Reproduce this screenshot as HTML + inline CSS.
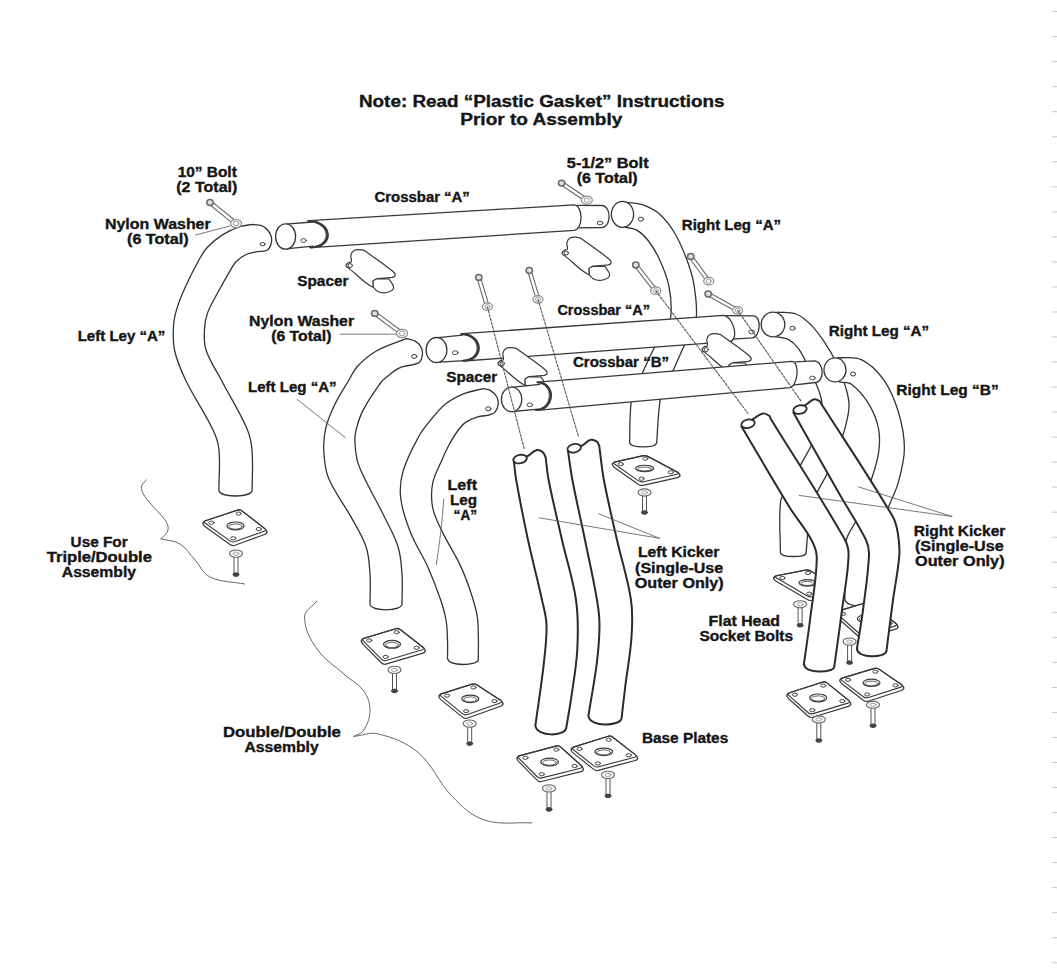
<!DOCTYPE html>
<html><head><meta charset="utf-8"><style>
html,body{margin:0;padding:0;background:#fff;}
svg{display:block;}
</style></head><body>
<svg width="1057" height="975" viewBox="0 0 1057 975">
<rect width="1057" height="975" fill="#fff"/>
<g stroke="#c8c8c8" stroke-width="1"><line x1="1052" y1="11.60" x2="1057" y2="11.60"/><line x1="1052" y1="36.63" x2="1057" y2="36.63"/><line x1="1052" y1="61.66" x2="1057" y2="61.66"/><line x1="1052" y1="86.69" x2="1057" y2="86.69"/><line x1="1052" y1="111.72" x2="1057" y2="111.72"/><line x1="1052" y1="136.75" x2="1057" y2="136.75"/><line x1="1052" y1="161.78" x2="1057" y2="161.78"/><line x1="1052" y1="186.81" x2="1057" y2="186.81"/><line x1="1052" y1="211.84" x2="1057" y2="211.84"/><line x1="1052" y1="236.87" x2="1057" y2="236.87"/><line x1="1052" y1="261.90" x2="1057" y2="261.90"/><line x1="1052" y1="286.93" x2="1057" y2="286.93"/><line x1="1052" y1="311.96" x2="1057" y2="311.96"/><line x1="1052" y1="336.99" x2="1057" y2="336.99"/><line x1="1052" y1="362.02" x2="1057" y2="362.02"/><line x1="1052" y1="387.05" x2="1057" y2="387.05"/><line x1="1052" y1="412.08" x2="1057" y2="412.08"/><line x1="1052" y1="437.11" x2="1057" y2="437.11"/><line x1="1052" y1="462.14" x2="1057" y2="462.14"/><line x1="1052" y1="487.17" x2="1057" y2="487.17"/><line x1="1052" y1="512.20" x2="1057" y2="512.20"/><line x1="1052" y1="537.23" x2="1057" y2="537.23"/><line x1="1052" y1="562.26" x2="1057" y2="562.26"/><line x1="1052" y1="587.29" x2="1057" y2="587.29"/><line x1="1052" y1="612.32" x2="1057" y2="612.32"/><line x1="1052" y1="637.35" x2="1057" y2="637.35"/><line x1="1052" y1="662.38" x2="1057" y2="662.38"/><line x1="1052" y1="687.41" x2="1057" y2="687.41"/><line x1="1052" y1="712.44" x2="1057" y2="712.44"/><line x1="1052" y1="737.47" x2="1057" y2="737.47"/><line x1="1052" y1="762.50" x2="1057" y2="762.50"/><line x1="1052" y1="787.53" x2="1057" y2="787.53"/><line x1="1052" y1="812.56" x2="1057" y2="812.56"/><line x1="1052" y1="837.59" x2="1057" y2="837.59"/><line x1="1052" y1="862.62" x2="1057" y2="862.62"/><line x1="1052" y1="887.65" x2="1057" y2="887.65"/><line x1="1052" y1="912.68" x2="1057" y2="912.68"/><line x1="1052" y1="937.71" x2="1057" y2="937.71"/><line x1="1052" y1="962.74" x2="1057" y2="962.74"/><line x1="1052" y1="987.77" x2="1057" y2="987.77"/></g>
<g fill="none" stroke="#383838" stroke-width="1.5" stroke-linecap="round" stroke-linejoin="round">
<path d="M253.3,224.4 C248.7,225.2 244.9,225.0 240.4,226.5 C233.9,228.6 229.0,230.8 223.2,234.4 C217.0,238.3 212.4,242.0 207.4,247.3 C203.6,251.4 201.5,255.3 198.8,260.2 C193.7,269.3 190.1,276.6 185.8,286.1 C182.3,293.7 179.7,299.6 177.2,307.6 C175.3,313.6 174.0,318.5 173.6,324.8 C173.0,333.9 172.6,341.1 174.5,350.0 C176.9,361.3 180.6,369.6 185.6,380.0 C194.4,398.2 203.9,411.1 212.7,429.3 C215.9,436.0 218.2,441.6 218.9,449.0 C220.4,464.0 218.9,475.8 218.9,490.8 C221.3,497.7 249.5,497.7 252.1,490.8 C252.1,476.6 253.2,465.5 252.1,451.4 C251.5,443.3 250.4,436.8 247.2,429.3 C239.3,410.9 230.5,397.8 221.3,380.0 C215.7,369.2 209.8,361.5 206.0,350.0 C203.6,342.8 204.2,336.6 204.5,329.1 C204.7,323.4 205.5,318.8 207.4,313.4 C210.1,305.8 213.6,300.4 217.4,293.3 C221.9,284.9 225.5,278.5 230.3,270.3 C232.2,267.1 233.5,264.3 236.1,261.7 C239.2,258.6 242.1,256.4 246.1,254.5 C250.0,252.7 253.5,252.6 257.6,251.6 C261.0,251.1 264.1,252.0 267.0,250.2 C269.6,248.6 270.6,245.9 271.3,243.0 C272.0,240.0 271.8,237.2 270.5,234.4 C268.8,231.0 266.7,228.4 263.4,226.5 C260.2,224.6 256.9,225.2 253.3,224.4Z" fill="#fff" stroke="#333" stroke-width="1.3"/>
<ellipse cx="262.6" cy="244.2" rx="2.5" ry="1.7" stroke-width="1"/>
<path d="M210.4,205.2 L232.5,223.1 L234.8,220.3 L212.7,202.4 Z" fill="#fff" stroke-width="1.1" stroke="#6a6a6a"/><line x1="232.40346747124238" y1="223.23124700735016" x2="234.89883293419842" y2="220.1563890909114" stroke-width="1.8" stroke="#777"/><ellipse cx="236" cy="223.6" rx="5.5" ry="4.125" stroke-width="1.2" fill="#fff" stroke="#8a8a8a"/><ellipse cx="236" cy="223.6" rx="2.75" ry="2.31" stroke-width="1.0" stroke="#999"/><ellipse cx="210" cy="202.5" rx="3.2" ry="2.9" stroke-width="1.5" fill="#e0e0e0" stroke="#6a6a6a"/>
<line x1="195.5" y1="235" x2="230" y2="226" stroke-width="0.8" stroke="#555"/>
<path d="M237.4,510.1 Q239.8,509.3 241.8,510.8 L264.9,528.7 Q266.9,530.2 266.9,532.7 L266.9,531.2 Q266.9,533.7 264.5,534.5 L234.8,545.3 Q232.4,546.1 230.4,544.7 L204.9,526.5 Q202.9,525.1 202.9,522.6 L202.9,524.1 Q202.9,521.6 205.3,520.8Z" fill="#fff" stroke="#3a3a3a" stroke-width="1.2"/><path d="M205.3,523.3 Q202.9,521.6 205.7,520.7 L237.0,510.2 Q239.8,509.3 242.2,511.1 L264.5,528.4 Q266.9,530.2 264.1,531.2 L235.2,541.6 Q232.4,542.6 230.0,540.9Z" fill="none" stroke="#3a3a3a" stroke-width="1.1"/><ellipse cx="235.49999999999997" cy="525.9250000000001" rx="8.53333333333333" ry="3.9176470588235306" stroke-width="1.2" stroke="#3a3a3a"/><ellipse cx="235.49999999999997" cy="526.5250000000001" rx="6.53333333333333" ry="2.6176470588235308" stroke-width="0.9" stroke="#555"/><ellipse cx="211.376" cy="522.7245" rx="2.6" ry="1.6" stroke-width="1.0" stroke="#444"/><ellipse cx="238.682" cy="513.6225000000001" rx="2.6" ry="1.6" stroke-width="1.0" stroke="#444"/><ellipse cx="258.736" cy="529.0885000000001" rx="2.6" ry="1.6" stroke-width="1.0" stroke="#444"/><ellipse cx="233.206" cy="538.2645" rx="2.6" ry="1.6" stroke-width="1.0" stroke="#444"/>
<path d="M234.0,555.6 L234.0,573.6 L238.0,573.6 L238.0,555.6" stroke-width="1" stroke="#555"/><ellipse cx="236" cy="553.6" rx="6.5" ry="3.6" stroke-width="1.1" fill="#fff" stroke="#666"/><ellipse cx="236" cy="553.6" rx="3.0" ry="1.6" stroke-width="0.8" stroke="#888"/><ellipse cx="236" cy="574.6" rx="3.0" ry="1.8" stroke-width="1" fill="#444" stroke="#444"/>
<path d="M146.2,479.8 C144.4,482.9 140.7,484.9 141.3,488.4 C142.3,494.4 146.3,498.1 150.0,503.0 C154.9,509.5 160.5,513.2 165.0,520.0 C167.1,523.1 168.8,526.3 168.0,530.0 C167.2,534.0 163.5,535.7 161.0,538.9" stroke-width="0.9" stroke="#555"/>
<path d="M161.0,538.9 C167.8,540.7 174.0,540.3 180.0,544.0 C186.7,548.2 189.7,554.2 195.0,560.0 C200.5,566.0 202.7,573.5 210.0,577.0 C221.5,582.5 232.2,581.5 244.7,584.0" stroke-width="0.9" stroke="#555"/>
<path d="M285.8,224.2 L331.3,222 L332.0,246.2 L285.8,248.9 Z" fill="#fff" stroke="none"/><line x1="285.8" y1="224.2" x2="312.3" y2="222" stroke-width="1.3"/><line x1="285.8" y1="248.9" x2="313" y2="246.2" stroke-width="1.3"/><ellipse cx="285.6" cy="236.5" rx="10" ry="12.7" stroke-width="1.3" fill="#fff"/><path d="M577.2,205.3 L602.3,205.5 C611.4,206.5 611.4,226.5 602.3,227.5 L577.2,227.8" fill="#fff" stroke-width="1.3"/><path d="M309.2,220.6 L574.2,204.9 C583.3,205.9 583.3,229.3 574.2,230.3 L311.5,247.7 C335.2,246.7 332.9,221.6 309.2,220.6Z" fill="#fff" stroke-width="1.3"/><path d="M307.2,220.9 C330.9,221.9 333.2,246.4 309.5,247.39999999999998" stroke-width="1.0" stroke="#555"/><path d="M308.4,220.9 C332.1,221.9 334.4,246.4 310.7,247.39999999999998" stroke-width="2.0"/><ellipse cx="303.6" cy="240.5" rx="2.8" ry="1.9" stroke-width="0.9"/><ellipse cx="600" cy="223" rx="2.8" ry="1.9" stroke-width="0.9"/>
<path d="M373.1,281.0 C372.9,283.2 374.4,288.0 372.5,287.0 C363.3,282.3 358.0,275.5 349.9,269.1" stroke-width="1.2"/><path d="M349.9,269.1 C348.5,267.9 346.4,267.6 346.0,265.8 C345.7,264.3 347.4,263.4 348.6,262.5 C349.4,261.9 351.0,262.8 351.3,261.9 C352.0,259.6 350.4,257.6 350.9,255.2 C351.3,253.3 352.2,251.6 353.9,250.6 C355.8,249.4 357.7,249.6 359.9,249.6 C361.6,249.6 362.8,250.2 364.5,250.6 C374.9,258.3 383.5,263.7 393.5,272.0 C394.6,272.9 395.3,274.4 395.0,275.8 C394.8,276.9 393.3,276.8 392.3,277.4 C386.8,277.9 382.5,277.7 377.1,278.7 C375.5,279.0 374.5,280.2 373.1,281.0 C373.4,283.4 372.6,285.6 373.8,287.7 C375.2,290.0 377.1,291.5 379.7,292.3 C382.4,293.2 385.0,293.2 387.7,292.3 C390.3,291.5 393.3,290.4 393.6,287.7 C393.9,284.2 390.7,282.1 389.0,279.0 L377.1,278.7" stroke-width="1.2" fill="#fff"/><ellipse cx="350.2" cy="265.6" rx="2.2" ry="2.0" stroke-width="1"/>
<path d="M589.1,268.5 C588.9,270.7 590.4,275.5 588.5,274.5 C579.3,269.8 574.0,263.0 565.9,256.6" stroke-width="1.2"/><path d="M565.9,256.6 C564.5,255.4 562.4,255.1 562.0,253.3 C561.7,251.8 563.4,250.9 564.6,250.0 C565.4,249.4 567.0,250.3 567.3,249.4 C568.0,247.1 566.4,245.1 566.9,242.7 C567.3,240.8 568.2,239.1 569.9,238.1 C571.8,236.9 573.7,237.1 575.9,237.1 C577.6,237.1 578.8,237.7 580.5,238.1 C590.9,245.8 599.5,251.2 609.5,259.5 C610.6,260.4 611.3,261.9 611.0,263.3 C610.8,264.4 609.3,264.3 608.3,264.9 C602.8,265.4 598.5,265.2 593.1,266.2 C591.5,266.5 590.5,267.7 589.1,268.5 C589.4,270.9 588.6,273.1 589.8,275.2 C591.2,277.5 593.1,279.0 595.7,279.8 C598.4,280.7 601.0,280.7 603.7,279.8 C606.3,279.0 609.3,277.9 609.6,275.2 C609.9,271.7 606.7,269.6 605.0,266.5 L593.1,266.2" stroke-width="1.2" fill="#fff"/><ellipse cx="566.2" cy="253.10000000000002" rx="2.2" ry="2.0" stroke-width="1"/>
<path d="M375.3,316.0 L398.5,333.1 L400.6,330.3 L377.5,313.1 Z" fill="#fff" stroke-width="1.1" stroke="#6a6a6a"/><line x1="398.39045161839215" y1="333.2946089562997" x2="400.7439109884872" y2="330.1098281171662" stroke-width="1.8" stroke="#777"/><ellipse cx="402" cy="333.5" rx="5.5" ry="4.125" stroke-width="1.2" fill="#fff" stroke="#8a8a8a"/><ellipse cx="402" cy="333.5" rx="2.75" ry="2.31" stroke-width="1.0" stroke="#999"/><ellipse cx="374.8" cy="313.40000000000003" rx="3.2" ry="2.9" stroke-width="1.5" fill="#e0e0e0" stroke="#6a6a6a"/>
<line x1="340.3" y1="334.2" x2="395.8" y2="334.2" stroke-width="0.8" stroke="#555"/>
<path d="M406.2,338.7 C395.6,343.1 386.8,345.2 376.8,350.8 C369.2,355.1 363.8,359.6 357.8,366.0 C353.4,370.6 351.7,375.5 348.4,381.0 C343.2,389.8 338.6,396.4 334.2,405.7 C330.4,413.6 327.7,419.9 325.7,428.4 C323.9,436.4 323.3,442.8 323.8,451.0 C324.4,460.9 324.7,468.9 328.5,478.0 C334.8,493.2 343.5,503.1 351.4,517.6 C357.1,528.1 362.5,535.9 366.2,547.2 C369.3,556.6 369.3,564.5 370.0,574.3 C370.7,585.2 370.0,593.7 370.0,604.6 C372.4,611.5 399.6,611.5 402.0,604.6 C402.0,593.7 402.7,585.2 402.0,574.3 C401.3,564.5 401.0,556.6 398.2,547.2 C395.2,536.9 390.7,529.6 386.0,520.0 C378.9,505.4 372.5,494.5 365.4,480.0 C362.4,473.8 359.7,469.0 357.8,462.4 C355.9,455.8 355.4,450.4 355.0,443.5 C354.7,438.7 354.8,434.9 356.0,430.3 C357.9,422.5 359.8,416.5 363.5,409.4 C368.7,399.4 374.0,392.2 380.5,383.0 C382.2,380.6 383.9,379.1 386.2,377.3 C390.8,373.6 394.2,370.3 399.5,367.8 C403.6,365.8 407.4,366.0 411.9,365.0 C414.6,364.0 417.3,364.2 419.5,362.2 C421.4,360.4 422.0,358.1 422.3,355.5 C422.7,352.8 422.6,350.5 421.4,348.0 C420.1,345.2 418.4,343.0 415.7,341.4 C412.7,339.5 409.6,339.7 406.2,338.7Z" fill="#fff" stroke="#333" stroke-width="1.3"/>
<ellipse cx="414.2" cy="356.4" rx="2.6" ry="2" stroke-width="1"/>
<line x1="297.2" y1="399.4" x2="345.3" y2="437.6" stroke-width="0.8" stroke="#555"/>
<path d="M483.0,388.7 C476.2,390.5 470.6,390.9 464.1,393.6 C456.9,396.6 451.3,399.3 445.2,404.2 C438.9,409.3 435.2,414.6 430.0,420.9 C425.7,426.1 422.2,430.1 419.0,436.0 C412.5,448.1 407.1,457.6 403.2,470.8 C400.4,480.2 399.5,488.2 400.7,498.0 C402.2,510.8 405.8,520.4 410.5,532.4 C415.6,545.3 422.1,554.2 427.8,566.9 C432.7,577.9 436.1,586.6 440.0,598.0 C442.7,605.8 444.6,611.9 446.0,620.0 C447.3,627.1 447.2,632.8 447.5,640.0 C447.8,646.8 447.5,652.0 447.5,658.8 C449.8,666.4 476.0,666.0 478.3,660.0 C478.3,651.0 478.6,644.0 478.3,635.0 C478.1,627.8 478.3,622.1 477.0,615.0 C475.3,605.8 473.0,598.8 470.0,590.0 C466.8,580.6 464.1,573.4 459.8,564.4 C454.2,552.6 448.2,544.2 442.6,532.4 C438.5,523.8 434.6,517.2 432.7,507.8 C431.0,499.1 431.0,491.9 432.7,483.2 C434.6,473.8 438.8,467.3 442.6,458.5 C444.7,453.6 446.4,449.7 449.0,445.0 C451.7,440.0 453.9,436.1 457.3,431.5 C459.9,427.9 462.0,425.0 465.6,422.4 C469.3,419.7 472.7,418.4 477.0,417.1 C481.2,415.8 484.7,415.9 489.1,415.2 C491.3,414.0 493.6,413.7 495.2,411.8 C497.1,409.5 497.9,407.1 498.2,404.2 C498.5,401.5 498.0,399.1 496.7,396.7 C495.2,394.0 493.3,392.2 490.6,390.6 C488.2,389.2 485.7,389.4 483.0,388.7Z" fill="#fff" stroke="#333" stroke-width="1.3"/>
<ellipse cx="488.3" cy="408.8" rx="2.6" ry="2" stroke-width="1"/>
<path d="M443.8,499.2 C442.8,510.3 442.3,518.9 441.0,530.0 C439.6,542.4 438.1,552.0 436.4,564.4" stroke-width="0.8" stroke="#555"/>
<path d="M395.8,628.7 Q398.2,628.0 400.2,629.5 L423.3,647.5 Q425.3,649.0 425.3,651.5 L425.3,650.0 Q425.3,652.5 422.9,653.2 L385.8,664.1 Q383.4,664.8 381.6,663.0 L363.1,644.4 Q361.3,642.6 361.3,640.1 L361.3,641.6 Q361.3,639.1 363.7,638.4Z" fill="#fff" stroke="#3a3a3a" stroke-width="1.2"/><path d="M363.4,641.2 Q361.3,639.1 364.2,638.2 L395.3,628.9 Q398.2,628.0 400.6,629.8 L422.9,647.2 Q425.3,649.0 422.4,649.8 L386.3,660.5 Q383.4,661.3 381.3,659.2Z" fill="none" stroke="#3a3a3a" stroke-width="1.1"/><ellipse cx="392.04999999999995" cy="644.3499999999999" rx="8.533333333333333" ry="3.917647058823524" stroke-width="1.2" stroke="#3a3a3a"/><ellipse cx="392.04999999999995" cy="644.9499999999999" rx="6.533333333333333" ry="2.6176470588235237" stroke-width="0.9" stroke="#555"/><ellipse cx="369.295" cy="640.465" rx="2.6" ry="1.6" stroke-width="1.0" stroke="#444"/><ellipse cx="396.601" cy="632.251" rx="2.6" ry="1.6" stroke-width="1.0" stroke="#444"/><ellipse cx="416.655" cy="647.7909999999999" rx="2.6" ry="1.6" stroke-width="1.0" stroke="#444"/><ellipse cx="385.64899999999994" cy="656.8929999999999" rx="2.6" ry="1.6" stroke-width="1.0" stroke="#444"/>
<path d="M392.5,671.9 L392.5,689.9 L396.5,689.9 L396.5,671.9" stroke-width="1" stroke="#555"/><ellipse cx="394.5" cy="669.9" rx="6.5" ry="3.6" stroke-width="1.1" fill="#fff" stroke="#666"/><ellipse cx="394.5" cy="669.9" rx="3.0" ry="1.6" stroke-width="0.8" stroke="#888"/><ellipse cx="394.5" cy="690.9" rx="3.0" ry="1.8" stroke-width="1" fill="#444" stroke="#444"/>
<path d="M472.2,684.1 Q474.6,683.4 476.7,684.8 L500.9,700.5 Q503.0,701.9 503.0,704.4 L503.0,702.9 Q503.0,705.4 500.6,706.2 L467.1,718.2 Q464.7,719.0 462.8,717.4 L440.8,699.6 Q438.9,698.0 438.9,695.5 L438.9,697.0 Q438.9,694.5 441.3,693.8Z" fill="#fff" stroke="#3a3a3a" stroke-width="1.2"/><path d="M441.2,696.4 Q438.9,694.5 441.8,693.6 L471.7,684.3 Q474.6,683.4 477.1,685.0 L500.5,700.3 Q503.0,701.9 500.2,702.9 L467.5,714.5 Q464.7,715.5 462.4,713.6Z" fill="none" stroke="#3a3a3a" stroke-width="1.1"/><ellipse cx="470.3" cy="698.825" rx="8.54666666666667" ry="3.7764705882352967" stroke-width="1.2" stroke="#3a3a3a"/><ellipse cx="470.3" cy="699.4250000000001" rx="6.54666666666667" ry="2.476470588235297" stroke-width="0.9" stroke="#555"/><ellipse cx="447.06399999999996" cy="695.6245" rx="2.6" ry="1.6" stroke-width="1.0" stroke="#444"/><ellipse cx="473.482" cy="687.4105" rx="2.6" ry="1.6" stroke-width="1.0" stroke="#444"/><ellipse cx="494.498" cy="701.1005" rx="2.6" ry="1.6" stroke-width="1.0" stroke="#444"/><ellipse cx="466.156" cy="711.1645" rx="2.6" ry="1.6" stroke-width="1.0" stroke="#444"/>
<path d="M467.7,725.6 L467.7,742.6 L471.7,742.6 L471.7,725.6" stroke-width="1" stroke="#555"/><ellipse cx="469.7" cy="723.6" rx="6.5" ry="3.6" stroke-width="1.1" fill="#fff" stroke="#666"/><ellipse cx="469.7" cy="723.6" rx="3.0" ry="1.6" stroke-width="0.8" stroke="#888"/><ellipse cx="469.7" cy="743.6" rx="3.0" ry="1.8" stroke-width="1" fill="#444" stroke="#444"/>
<path d="M317.0,601.0 C312.5,606.8 304.6,609.7 304.6,617.0 C304.6,629.4 309.9,638.9 317.0,649.0 C324.9,660.3 334.8,665.8 345.0,675.0 C351.6,680.9 358.6,683.6 363.7,690.8 C368.0,696.9 370.0,703.1 370.0,710.5 C370.0,717.9 367.6,723.9 363.7,730.2 C361.5,733.7 357.4,734.2 353.9,736.4" stroke-width="0.9" stroke="#555"/>
<path d="M353.9,736.4 C362.8,735.5 369.9,731.8 378.5,734.0 C393.7,737.8 406.0,742.3 418.0,752.4 C433.4,765.5 438.3,782.3 452.4,796.7 C462.4,806.9 470.9,815.5 484.4,820.0 C500.6,825.4 514.7,821.9 531.7,822.9" stroke-width="0.9" stroke="#555"/>
<path d="M626.4,202.3 C632.2,203.1 636.9,202.7 642.4,204.6 C649.0,206.9 654.2,209.4 659.5,214.0 C666.1,219.8 670.1,225.5 674.6,233.0 C679.7,241.3 682.5,248.5 686.0,257.6 C689.3,266.2 691.9,273.1 693.5,282.2 C695.6,294.3 697.2,303.9 696.4,316.2 C695.9,323.3 692.7,328.4 690.0,335.0 C688.2,339.4 685.8,342.5 683.7,346.8 C679.5,355.6 676.9,362.7 672.7,371.4 C669.1,378.9 664.8,384.1 662.0,392.0 C659.8,398.2 659.7,403.5 659.0,410.0 C657.8,421.8 657.5,431.1 656.7,443.0 C654.7,448.3 631.6,448.3 629.6,443.0 C629.9,431.1 629.7,421.9 630.5,410.0 C630.9,403.8 631.1,398.9 633.0,393.0 C635.3,385.8 638.7,380.8 641.9,373.9 C646.3,364.6 649.4,357.1 654.2,348.0 C657.4,342.0 660.9,338.0 664.0,332.0 C666.9,326.5 670.1,322.4 670.8,316.2 C672.0,305.4 671.0,296.7 668.9,286.0 C666.9,276.1 663.7,268.7 659.5,259.5 C656.2,252.2 653.0,246.8 648.1,240.5 C644.7,236.1 641.6,232.9 636.8,230.1 C633.1,228.0 629.5,228.3 625.4,227.3Z" fill="#fff" stroke="#333" stroke-width="1.3"/>
<ellipse cx="622.5" cy="214.3" rx="11.1" ry="13" stroke-width="1.3" fill="#fff"/>
<ellipse cx="640.9" cy="219.2" rx="2.6" ry="2" stroke-width="1"/>
<path d="M562.2,185.7 L583.3,200.0 L585.3,197.0 L564.3,182.7 Z" fill="#fff" stroke-width="1.1" stroke="#6a6a6a"/><line x1="583.185112974157" y1="200.13986024282545" x2="585.4086585907727" y2="196.8630561762341" stroke-width="1.8" stroke="#777"/><ellipse cx="586.8" cy="200.2" rx="5.5" ry="4.125" stroke-width="1.2" fill="#fff" stroke="#8a8a8a"/><ellipse cx="586.8" cy="200.2" rx="2.75" ry="2.31" stroke-width="1.0" stroke="#999"/><ellipse cx="561.6" cy="183.10000000000002" rx="3.2" ry="2.9" stroke-width="1.5" fill="#e0e0e0" stroke="#6a6a6a"/>
<path d="M643.2,455.7 Q645.6,455.2 647.8,456.4 L677.8,472.4 Q680.0,473.6 680.0,476.1 L680.0,474.6 Q680.0,477.1 677.6,477.6 L643.0,485.3 Q640.6,485.8 638.5,484.4 L614.4,467.5 Q612.3,466.1 612.3,463.6 L612.3,465.1 Q612.3,462.6 614.7,462.1Z" fill="#fff" stroke="#3a3a3a" stroke-width="1.2"/><path d="M614.8,464.3 Q612.3,462.6 615.2,461.9 L642.7,455.9 Q645.6,455.2 648.2,456.6 L677.4,472.2 Q680.0,473.6 677.1,474.2 L643.5,481.7 Q640.6,482.3 638.1,480.6Z" fill="none" stroke="#3a3a3a" stroke-width="1.1"/><ellipse cx="644.625" cy="468.425" rx="9.026666666666673" ry="3.18823529411765" stroke-width="1.2" stroke="#3a3a3a"/><ellipse cx="644.625" cy="469.02500000000003" rx="7.026666666666673" ry="1.88823529411765" stroke-width="0.9" stroke="#555"/><ellipse cx="620.7044999999999" cy="464.1145" rx="2.6" ry="1.6" stroke-width="1.0" stroke="#444"/><ellipse cx="645.3465" cy="458.6385" rx="2.6" ry="1.6" stroke-width="1.0" stroke="#444"/><ellipse cx="670.8025" cy="472.2545" rx="2.6" ry="1.6" stroke-width="1.0" stroke="#444"/><ellipse cx="641.6465000000001" cy="478.6925" rx="2.6" ry="1.6" stroke-width="1.0" stroke="#444"/>
<path d="M642.5,494.5 L642.5,511.5 L646.5,511.5 L646.5,494.5" stroke-width="1" stroke="#555"/><ellipse cx="644.5" cy="492.5" rx="6.5" ry="3.6" stroke-width="1.1" fill="#fff" stroke="#666"/><ellipse cx="644.5" cy="492.5" rx="3.0" ry="1.6" stroke-width="0.8" stroke="#888"/><ellipse cx="644.5" cy="512.5" rx="3.0" ry="1.8" stroke-width="1" fill="#444" stroke="#444"/>
<path d="M777.3,312.2 C784.1,312.8 789.8,311.5 796.2,314.0 C802.6,316.5 806.6,320.6 811.4,325.4 C816.9,330.9 820.3,336.0 824.6,342.4 C829.2,349.2 832.5,354.6 836.0,362.0 C839.8,370.0 842.5,376.5 845.0,385.0 C847.2,392.7 849.5,399.0 849.0,407.0 C848.4,418.4 845.5,427.1 842.0,438.0 C837.9,450.6 833.5,459.9 828.0,472.0 C824.5,479.8 820.3,485.1 817.0,493.0 C813.8,500.7 811.5,506.8 810.0,515.0 C807.5,528.7 807.4,539.7 806.0,553.6 C804.0,557.5 782.2,557.7 780.4,552.9 C780.5,534.4 778.5,519.9 780.6,501.6 C781.3,495.7 785.2,492.2 788.0,487.0 C792.2,479.4 795.7,473.6 800.0,466.0 C804.0,458.8 807.3,453.3 811.0,446.0 C813.8,440.4 816.4,436.1 818.0,430.0 C820.4,420.8 822.2,413.5 822.0,404.0 C821.8,397.3 819.4,392.3 817.0,386.0 C813.6,377.1 810.2,370.5 806.0,362.0 C803.4,356.8 801.6,352.7 798.1,348.1 C795.3,344.5 792.7,341.7 788.7,339.6 C784.7,337.5 780.8,337.8 776.4,336.8Z" fill="#fff" stroke="#333" stroke-width="1.3"/>
<ellipse cx="773" cy="324.5" rx="11.8" ry="12.3" stroke-width="1.3" fill="#fff"/>
<ellipse cx="792.5" cy="328.2" rx="2.6" ry="2" stroke-width="1"/>
<path d="M837.9,357.6 C846.3,358.3 853.7,356.0 861.3,359.6 C870.9,364.2 877.2,370.6 883.4,379.3 C890.8,389.6 894.5,399.2 898.2,411.3 C902.1,424.2 904.4,434.7 904.4,448.2 C904.4,460.8 901.5,470.5 898.2,482.7 C895.7,491.9 891.8,498.4 888.4,507.3 C885.3,515.4 882.0,521.5 880.0,530.0 C877.5,540.6 876.9,549.1 876.0,560.0 C874.8,574.4 874.7,585.6 874.0,600.0 C871.9,608.0 847.2,608.0 845.0,600.0 C844.6,589.2 843.8,580.8 844.0,570.0 C844.2,559.3 843.6,550.7 846.2,540.3 C848.2,532.3 853.2,527.3 856.4,519.7 C862.2,505.7 866.3,494.6 871.1,480.2 C874.3,470.6 877.1,463.2 878.5,453.2 C879.8,444.4 880.2,437.2 878.5,428.5 C876.6,419.2 873.7,412.0 868.7,403.9 C863.8,395.8 858.9,389.9 851.4,384.2 C848.0,381.7 844.0,382.9 839.8,382.2Z" fill="#fff" stroke="#333" stroke-width="1.3"/>
<ellipse cx="835" cy="369.9" rx="11" ry="12" stroke-width="1.3" fill="#fff"/>
<ellipse cx="853" cy="374" rx="2.6" ry="2" stroke-width="1"/>
<path d="M435.9,337.9 L479.4,335.2 L481.0,360.6 L435.9,362.3 Z" fill="#fff" stroke="none"/><line x1="435.9" y1="337.9" x2="462.4" y2="335.2" stroke-width="1.3"/><line x1="435.9" y1="362.3" x2="464" y2="360.6" stroke-width="1.3"/><ellipse cx="436.5" cy="350" rx="10.4" ry="12.5" stroke-width="1.3" fill="#fff"/><path d="M726.5,315.7 L753.8,315.9 C761.9,316.9 760.4,336.9 752.3,337.9 L732.5,339.1" fill="#fff" stroke-width="1.3"/><path d="M462.4,333.7 L723.5,315.3 C733.5,316.3 739.5,340.6 729.5,341.6 L464,361 C485.2,360.0 483.6,334.7 462.4,333.7Z" fill="#fff" stroke-width="1.3"/><path d="M460.4,334.0 C481.6,335.0 483.2,359.7 462,360.7" stroke-width="1.0" stroke="#555"/><path d="M461.59999999999997,334.0 C482.8,335.0 484.4,359.7 463.2,360.7" stroke-width="2.0"/><ellipse cx="455.2" cy="352.7" rx="2.8" ry="1.9" stroke-width="0.9"/><ellipse cx="751.5" cy="331.8" rx="2.8" ry="1.9" stroke-width="0.9"/>
<path d="M525.1,379.0 C524.9,381.2 526.4,386.0 524.5,385.0 C515.3,380.3 510.0,373.5 501.9,367.1" stroke-width="1.2"/><path d="M501.9,367.1 C500.5,365.9 498.4,365.6 498.0,363.8 C497.7,362.3 499.4,361.4 500.6,360.5 C501.4,359.9 503.0,360.8 503.3,359.9 C504.0,357.6 502.4,355.6 502.9,353.2 C503.3,351.3 504.2,349.6 505.9,348.6 C507.8,347.4 509.7,347.6 511.9,347.6 C513.6,347.6 514.8,348.2 516.5,348.6 C526.9,356.3 535.5,361.7 545.5,370.0 C546.6,370.9 547.3,372.4 547.0,373.8 C546.8,374.9 545.3,374.8 544.3,375.4 C538.8,375.9 534.5,375.7 529.1,376.7 C527.5,377.0 526.5,378.2 525.1,379.0 C525.4,381.4 524.6,383.6 525.8,385.7 C527.2,388.0 529.1,389.5 531.7,390.3 C534.4,391.2 537.0,391.2 539.7,390.3 C542.3,389.5 545.3,388.4 545.6,385.7 C545.9,382.2 542.7,380.1 541.0,377.0 L529.1,376.7" stroke-width="1.2" fill="#fff"/><ellipse cx="502.2" cy="363.6" rx="2.2" ry="2.0" stroke-width="1"/>
<path d="M729.1,365.0 C728.9,367.2 730.4,372.0 728.5,371.0 C719.3,366.3 714.0,359.5 705.9,353.1" stroke-width="1.2"/><path d="M705.9,353.1 C704.5,351.9 702.4,351.6 702.0,349.8 C701.7,348.3 703.4,347.4 704.6,346.5 C705.4,345.9 707.0,346.8 707.3,345.9 C708.0,343.6 706.4,341.6 706.9,339.2 C707.3,337.3 708.2,335.6 709.9,334.6 C711.8,333.4 713.7,333.6 715.9,333.6 C717.6,333.6 718.8,334.2 720.5,334.6 C730.9,342.3 739.5,347.7 749.5,356.0 C750.6,356.9 751.3,358.4 751.0,359.8 C750.8,360.9 749.3,360.8 748.3,361.4 C742.8,361.9 738.5,361.7 733.1,362.7 C731.5,363.0 730.5,364.2 729.1,365.0 C729.4,367.4 728.6,369.6 729.8,371.7 C731.2,374.0 733.1,375.5 735.7,376.3 C738.4,377.2 741.0,377.2 743.7,376.3 C746.3,375.5 749.3,374.4 749.6,371.7 C749.9,368.2 746.7,366.1 745.0,363.0 L733.1,362.7" stroke-width="1.2" fill="#fff"/><ellipse cx="706.2" cy="349.6" rx="2.2" ry="2.0" stroke-width="1"/>
<path d="M511.2,387.4 L554.5,384.4 L553.0,409.2 L512.7,411.5 Z" fill="#fff" stroke="none"/><line x1="511.2" y1="387.4" x2="540" y2="384.4" stroke-width="1.3"/><line x1="512.7" y1="411.5" x2="538.5" y2="409.2" stroke-width="1.3"/><ellipse cx="511.6" cy="399.4" rx="10.2" ry="12.3" stroke-width="1.3" fill="#fff"/><path d="M795.0,361.8 L814.7,360.9 C824.1,361.9 824.9,381.5 815.5,382.5 L792.7,385.1" fill="#fff" stroke-width="1.3"/><path d="M538.5,382.05 L792,361.4 C800.1,362.4 797.8,386.6 789.7,387.6 L537,410.4 C555.1,409.4 556.6,383.1 538.5,382.1Z" fill="#fff" stroke-width="1.3"/><path d="M536.5,382.35 C554.6,383.4 553.1,409.1 535,410.09999999999997" stroke-width="1.0" stroke="#555"/><path d="M537.7,382.35 C555.8,383.4 554.3,409.1 536.2,410.09999999999997" stroke-width="2.0"/><ellipse cx="529.8" cy="404.8" rx="2.8" ry="1.9" stroke-width="0.9"/><ellipse cx="812.4" cy="378" rx="2.8" ry="1.9" stroke-width="0.9"/>
<path d="M477.6,279.8 L484.9,304.6 L488.4,303.6 L481.1,278.8 Z" fill="#fff" stroke-width="1.1" stroke="#6a6a6a"/><line x1="484.72565229264757" y1="304.6189511442114" x2="488.5253585988374" y2="303.5036789860806" stroke-width="1.8" stroke="#777"/><ellipse cx="487.4" cy="306.7" rx="5" ry="3.75" stroke-width="1.2" fill="#fff" stroke="#8a8a8a"/><ellipse cx="487.4" cy="306.7" rx="2.5" ry="2.1" stroke-width="1.0" stroke="#999"/><ellipse cx="478.8" cy="277.40000000000003" rx="3.2" ry="2.9" stroke-width="1.5" fill="#e0e0e0" stroke="#6a6a6a"/><line x1="487.4" y1="306.7" x2="524.3" y2="449.3" stroke-width="1.1" stroke="#5a5a5a" stroke-dasharray="2.5 1.5"/>
<path d="M528.2,272.9 L535.5,297.2 L538.9,296.1 L531.6,271.9 Z" fill="#fff" stroke-width="1.1" stroke="#6a6a6a"/><line x1="535.3093574349707" y1="297.2400624797697" x2="539.100168973797" y2="296.09492149408254" stroke-width="1.8" stroke="#777"/><ellipse cx="538" cy="299.3" rx="5" ry="3.75" stroke-width="1.2" fill="#fff" stroke="#8a8a8a"/><ellipse cx="538" cy="299.3" rx="2.5" ry="2.1" stroke-width="1.0" stroke="#999"/><ellipse cx="529.3" cy="270.5" rx="3.2" ry="2.9" stroke-width="1.5" fill="#e0e0e0" stroke="#6a6a6a"/><line x1="538" y1="299.3" x2="578.4" y2="436.2" stroke-width="1.1" stroke="#5a5a5a" stroke-dasharray="2.5 1.5"/>
<path d="M635.6,267.7 L652.6,289.6 L655.4,287.4 L638.4,265.5 Z" fill="#fff" stroke-width="1.1" stroke="#6a6a6a"/><line x1="652.4508152653844" y1="289.7378677012278" x2="655.5818908996583" y2="287.31341614005845" stroke-width="1.8" stroke="#777"/><ellipse cx="655.7" cy="290.7" rx="5" ry="3.75" stroke-width="1.2" fill="#fff" stroke="#8a8a8a"/><ellipse cx="655.7" cy="290.7" rx="2.5" ry="2.1" stroke-width="1.0" stroke="#999"/><ellipse cx="635.8" cy="265.0" rx="3.2" ry="2.9" stroke-width="1.5" fill="#e0e0e0" stroke="#6a6a6a"/><line x1="655.7" y1="290.7" x2="748" y2="413.4" stroke-width="1.1" stroke="#5a5a5a" stroke-dasharray="2.5 1.5"/>
<path d="M690.4,259.2 L705.6,280.0 L708.5,277.9 L693.3,257.1 Z" fill="#fff" stroke-width="1.1" stroke="#6a6a6a"/><line x1="705.4802124434785" y1="280.14365342293866" x2="708.6805646626368" y2="277.8114129393416" stroke-width="1.8" stroke="#777"/><ellipse cx="708.7" cy="281.2" rx="5" ry="3.75" stroke-width="1.2" fill="#fff" stroke="#8a8a8a"/><ellipse cx="708.7" cy="281.2" rx="2.5" ry="2.1" stroke-width="1.0" stroke="#999"/><ellipse cx="690.7" cy="256.5" rx="3.2" ry="2.9" stroke-width="1.5" fill="#e0e0e0" stroke="#6a6a6a"/>
<path d="M709.1,296.5 L734.3,310.5 L736.1,307.4 L710.8,293.4 Z" fill="#fff" stroke-width="1.1" stroke="#6a6a6a"/><line x1="734.2348384093325" y1="310.6982304216105" x2="736.154983120927" y2="307.2349019233972" stroke-width="1.8" stroke="#777"/><ellipse cx="737.6" cy="310.3" rx="5" ry="3.75" stroke-width="1.2" fill="#fff" stroke="#8a8a8a"/><ellipse cx="737.6" cy="310.3" rx="2.5" ry="2.1" stroke-width="1.0" stroke="#999"/><ellipse cx="708.2" cy="294.0" rx="3.2" ry="2.9" stroke-width="1.5" fill="#e0e0e0" stroke="#6a6a6a"/><line x1="737.6" y1="310.3" x2="801" y2="401" stroke-width="1.1" stroke="#5a5a5a" stroke-dasharray="2.5 1.5"/>
<path d="M805.9,570.0 Q808.4,569.5 810.5,570.8 L835.9,586.7 Q838.0,588.0 838.0,590.5 L838.0,589.0 Q838.0,591.5 835.6,592.3 L812.4,600.2 Q810.0,601.0 807.8,599.7 L775.8,581.1 Q773.6,579.8 773.6,577.3 L773.6,578.8 Q773.6,576.3 776.1,575.8Z" fill="#fff" stroke="#3a3a3a" stroke-width="1.2"/><path d="M776.2,577.8 Q773.6,576.3 776.5,575.7 L805.5,570.1 Q808.4,569.5 810.9,571.1 L835.5,586.4 Q838.0,588.0 835.2,589.0 L812.8,596.5 Q810.0,597.5 807.4,596.0Z" fill="none" stroke="#3a3a3a" stroke-width="1.1"/><ellipse cx="807.5" cy="582.825" rx="8.586666666666664" ry="3.2941176470588234" stroke-width="1.2" stroke="#3a3a3a"/><ellipse cx="807.5" cy="583.4250000000001" rx="6.586666666666664" ry="1.9941176470588233" stroke-width="0.9" stroke="#555"/><ellipse cx="782.414" cy="577.9965" rx="2.6" ry="1.6" stroke-width="1.0" stroke="#444"/><ellipse cx="808.1659999999999" cy="572.9645" rx="2.6" ry="1.6" stroke-width="1.0" stroke="#444"/><ellipse cx="830.07" cy="586.6545" rx="2.6" ry="1.6" stroke-width="1.0" stroke="#444"/><ellipse cx="809.35" cy="593.6845" rx="2.6" ry="1.6" stroke-width="1.0" stroke="#444"/>
<path d="M798.1,606.3 L798.1,624.3 L802.1,624.3 L802.1,606.3" stroke-width="1" stroke="#555"/><ellipse cx="800.1" cy="604.3" rx="6.5" ry="3.6" stroke-width="1.1" fill="#fff" stroke="#666"/><ellipse cx="800.1" cy="604.3" rx="3.0" ry="1.6" stroke-width="0.8" stroke="#888"/><ellipse cx="800.1" cy="625.3" rx="3.0" ry="1.8" stroke-width="1" fill="#444" stroke="#444"/>
<path d="M865.6,602.7 Q868.0,602.0 870.0,603.5 L896.0,623.5 Q898.0,625.0 898.0,627.5 L898.0,626.0 Q898.0,628.5 895.6,629.2 L864.4,638.8 Q862.0,639.5 860.1,637.8 L836.9,617.2 Q835.0,615.5 835.0,613.0 L835.0,614.5 Q835.0,612.0 837.4,611.3Z" fill="#fff" stroke="#3a3a3a" stroke-width="1.2"/><path d="M837.2,614.0 Q835.0,612.0 837.9,611.1 L865.1,602.9 Q868.0,602.0 870.4,603.8 L895.6,623.2 Q898.0,625.0 895.1,625.9 L864.9,635.1 Q862.0,636.0 859.8,634.0Z" fill="none" stroke="#3a3a3a" stroke-width="1.1"/><ellipse cx="865.75" cy="618.75" rx="8.4" ry="4.0" stroke-width="1.2" stroke="#3a3a3a"/><ellipse cx="865.75" cy="619.35" rx="6.4" ry="2.7" stroke-width="0.9" stroke="#555"/><ellipse cx="842.995" cy="613.755" rx="2.6" ry="1.6" stroke-width="1.0" stroke="#444"/><ellipse cx="867.415" cy="606.355" rx="2.6" ry="1.6" stroke-width="1.0" stroke="#444"/><ellipse cx="889.615" cy="623.375" rx="2.6" ry="1.6" stroke-width="1.0" stroke="#444"/><ellipse cx="862.975" cy="631.515" rx="2.6" ry="1.6" stroke-width="1.0" stroke="#444"/>
<path d="M847.6,643.6 L847.6,661.6 L851.6,661.6 L851.6,643.6" stroke-width="1" stroke="#555"/><ellipse cx="849.6" cy="641.6" rx="6.5" ry="3.6" stroke-width="1.1" fill="#fff" stroke="#666"/><ellipse cx="849.6" cy="641.6" rx="3.0" ry="1.6" stroke-width="0.8" stroke="#888"/><ellipse cx="849.6" cy="662.6" rx="3.0" ry="1.8" stroke-width="1" fill="#444" stroke="#444"/>
<path d="M513.8,460.2 C514.7,467.3 514.9,472.9 516.2,480.0 C520.1,501.7 523.4,518.5 528.0,540.0 C532.7,561.7 537.3,578.3 542.0,600.0 C543.9,608.8 546.2,615.6 546.5,624.6 C546.9,637.9 545.5,648.3 544.0,661.6 C541.5,684.7 538.5,702.6 535.4,725.6 C537.0,737.3 564.7,736.5 566.2,728.0 C568.0,717.4 569.6,709.2 571.1,698.5 C573.6,680.8 576.4,667.1 577.3,649.3 C578.2,631.6 578.5,617.6 576.0,600.0 C572.9,578.0 566.9,561.6 562.0,540.0 C557.1,518.4 552.9,501.7 548.6,480.0 C547.0,471.8 546.7,465.3 545.6,457.0 C544.5,455.2 544.2,453.1 542.5,451.9 C540.6,450.5 538.4,449.6 536.2,450.3 C532.3,451.4 530.6,454.9 526.9,456.5 C522.4,458.5 518.5,458.9 513.8,460.2Z" fill="#fff" stroke="#2b2b2b" stroke-width="2.0"/><ellipse cx="520.1" cy="459.1" rx="6.8" ry="4.2" transform="rotate(-12 520.1 459.1)" stroke-width="1.8" stroke="#2b2b2b" fill="#fff"/>
<path d="M568.0,450.8 C569.6,461.3 570.4,469.6 572.4,480.0 C576.5,501.7 580.6,518.4 585.0,540.0 C589.4,561.6 593.3,578.3 597.0,600.0 C598.5,608.8 599.5,615.7 599.5,624.6 C599.5,638.0 598.6,648.3 597.0,661.6 C594.6,681.2 591.5,696.3 588.4,715.8 C589.9,727.5 619.8,726.7 621.6,718.2 C622.9,706.7 623.9,697.7 625.3,686.2 C627.5,668.5 630.3,654.8 631.5,637.0 C632.4,623.7 633.0,613.2 631.0,600.0 C627.7,578.1 621.9,561.6 617.0,540.0 C612.1,518.4 608.0,501.7 603.9,480.0 C601.6,467.7 600.9,458.0 599.2,445.6 C598.3,444.1 598.1,442.4 596.6,441.4 C594.6,440.1 592.5,439.3 590.3,439.9 C586.8,440.9 585.3,444.0 582.0,445.6 C577.2,448.0 573.0,448.9 568.0,450.8Z" fill="#fff" stroke="#2b2b2b" stroke-width="2.0"/><ellipse cx="574.2" cy="448.2" rx="6.8" ry="4.2" transform="rotate(-12 574.2 448.2)" stroke-width="1.8" stroke="#2b2b2b" fill="#fff"/>
<path d="M741.5,426.5 C759.0,455.8 772.1,478.9 790.0,508.0 C797.3,519.8 805.0,527.8 811.5,540.0 C814.7,546.0 816.9,551.4 816.8,558.2 C816.4,580.6 812.7,597.8 810.0,620.0 C808.1,635.9 806.1,648.2 803.9,664.1 C805.3,673.9 832.5,672.9 834.2,667.2 C837.0,646.6 839.4,630.6 842.0,610.0 C844.5,590.3 848.0,575.0 848.6,555.1 C848.8,548.7 847.2,543.5 844.0,538.0 C818.9,494.2 797.0,461.5 770.5,418.5 C770.2,417.7 770.4,416.7 769.7,416.2 C767.6,414.7 765.7,413.1 763.1,413.4 C759.6,413.8 757.6,416.3 754.6,418.1 C749.8,421.0 746.2,423.5 741.5,426.5Z" fill="#fff" stroke="#2b2b2b" stroke-width="2.0"/><ellipse cx="748" cy="423.8" rx="6.8" ry="4.2" transform="rotate(-12 748 423.8)" stroke-width="1.8" stroke="#2b2b2b" fill="#fff"/>
<path d="M793.4,412.5 C810.2,442.2 823.1,465.4 840.0,495.0 C849.3,511.3 857.9,523.1 866.0,540.0 C868.4,545.0 869.2,549.6 869.0,555.1 C868.1,575.0 865.5,590.3 863.0,610.0 C861.2,624.1 859.1,635.0 856.9,649.0 C858.3,658.7 884.8,657.9 886.4,651.3 C888.8,632.8 890.5,618.5 893.0,600.0 C895.2,583.8 898.1,571.4 899.3,555.1 C899.9,547.1 899.1,540.9 897.8,533.0 C896.7,526.8 895.9,521.8 892.7,516.4 C867.6,474.1 845.9,442.5 819.5,401.0 C817.6,400.4 816.2,398.7 814.2,399.2 C811.2,399.9 809.6,402.3 807.0,404.0 C802.1,407.1 798.3,409.4 793.4,412.5Z" fill="#fff" stroke="#2b2b2b" stroke-width="2.0"/><ellipse cx="800" cy="409.6" rx="6.8" ry="4.2" transform="rotate(-12 800 409.6)" stroke-width="1.8" stroke="#2b2b2b" fill="#fff"/>
<path d="M556.4,745.9 Q558.8,745.3 560.7,747.0 L581.5,765.8 Q583.4,767.5 583.4,770.0 L583.4,768.5 Q583.4,771.0 581.0,771.6 L541.5,781.5 Q539.1,782.1 537.3,780.3 L518.8,761.7 Q517.0,759.9 517.0,757.4 L517.0,758.9 Q517.0,756.4 519.4,755.8Z" fill="#fff" stroke="#3a3a3a" stroke-width="1.2"/><path d="M519.1,758.5 Q517.0,756.4 519.9,755.6 L555.9,746.1 Q558.8,745.3 561.0,747.3 L581.2,765.5 Q583.4,767.5 580.5,768.2 L542.0,777.9 Q539.1,778.6 537.0,776.5Z" fill="none" stroke="#3a3a3a" stroke-width="1.1"/><ellipse cx="549.575" cy="761.9499999999999" rx="8.85333333333333" ry="3.9176470588235373" stroke-width="1.2" stroke="#3a3a3a"/><ellipse cx="549.575" cy="762.55" rx="6.85333333333333" ry="2.617647058823537" stroke-width="0.9" stroke="#555"/><ellipse cx="525.4695" cy="757.843" rx="2.6" ry="1.6" stroke-width="1.0" stroke="#444"/><ellipse cx="556.4014999999999" cy="749.6289999999999" rx="2.6" ry="1.6" stroke-width="1.0" stroke="#444"/><ellipse cx="574.6055" cy="766.057" rx="2.6" ry="1.6" stroke-width="1.0" stroke="#444"/><ellipse cx="541.8235000000001" cy="774.271" rx="2.6" ry="1.6" stroke-width="1.0" stroke="#444"/>
<path d="M547.0,790.4 L547.0,808.4 L551.0,808.4 L551.0,790.4" stroke-width="1" stroke="#555"/><ellipse cx="549" cy="788.4" rx="6.5" ry="3.6" stroke-width="1.1" fill="#fff" stroke="#666"/><ellipse cx="549" cy="788.4" rx="3.0" ry="1.6" stroke-width="0.8" stroke="#888"/><ellipse cx="549" cy="809.4" rx="3.0" ry="1.8" stroke-width="1" fill="#444" stroke="#444"/>
<path d="M608.1,736.2 Q610.5,735.5 612.5,737.0 L635.6,754.9 Q637.6,756.4 637.6,758.9 L637.6,757.4 Q637.6,759.9 635.2,760.5 L598.2,770.4 Q595.8,771.0 593.8,769.4 L573.1,752.9 Q571.1,751.3 571.1,748.8 L571.1,750.3 Q571.1,747.8 573.5,747.1Z" fill="#fff" stroke="#3a3a3a" stroke-width="1.2"/><path d="M573.4,749.7 Q571.1,747.8 574.0,746.9 L607.6,736.4 Q610.5,735.5 612.9,737.3 L635.2,754.6 Q637.6,756.4 634.7,757.2 L598.7,766.7 Q595.8,767.5 593.5,765.6Z" fill="none" stroke="#3a3a3a" stroke-width="1.1"/><ellipse cx="603.75" cy="751.8" rx="8.866666666666667" ry="3.764705882352941" stroke-width="1.2" stroke="#3a3a3a"/><ellipse cx="603.75" cy="752.4" rx="6.866666666666667" ry="2.4647058823529413" stroke-width="0.9" stroke="#555"/><ellipse cx="579.589" cy="748.8399999999999" rx="2.6" ry="1.6" stroke-width="1.0" stroke="#444"/><ellipse cx="608.745" cy="739.7379999999999" rx="2.6" ry="1.6" stroke-width="1.0" stroke="#444"/><ellipse cx="628.799" cy="755.204" rx="2.6" ry="1.6" stroke-width="1.0" stroke="#444"/><ellipse cx="597.867" cy="763.418" rx="2.6" ry="1.6" stroke-width="1.0" stroke="#444"/>
<path d="M606.0,776.9 L606.0,794.9 L610.0,794.9 L610.0,776.9" stroke-width="1" stroke="#555"/><ellipse cx="608" cy="774.9" rx="6.5" ry="3.6" stroke-width="1.1" fill="#fff" stroke="#666"/><ellipse cx="608" cy="774.9" rx="3.0" ry="1.6" stroke-width="0.8" stroke="#888"/><ellipse cx="608" cy="795.9" rx="3.0" ry="1.8" stroke-width="1" fill="#444" stroke="#444"/>
<path d="M822.6,682.1 Q825.0,681.3 826.9,682.9 L848.9,700.6 Q850.8,702.2 850.8,704.7 L850.8,703.2 Q850.8,705.7 848.4,706.4 L812.6,717.3 Q810.2,718.0 808.3,716.3 L788.7,698.8 Q786.8,697.1 786.8,694.6 L786.8,696.1 Q786.8,693.6 789.2,692.8Z" fill="#fff" stroke="#3a3a3a" stroke-width="1.2"/><path d="M789.0,695.6 Q786.8,693.6 789.7,692.7 L822.1,682.2 Q825.0,681.3 827.3,683.2 L848.5,700.3 Q850.8,702.2 847.9,703.1 L813.1,713.6 Q810.2,714.5 808.0,712.5Z" fill="none" stroke="#3a3a3a" stroke-width="1.1"/><ellipse cx="818.2" cy="697.9000000000001" rx="8.533333333333333" ry="3.9058823529411817" stroke-width="1.2" stroke="#3a3a3a"/><ellipse cx="818.2" cy="698.5000000000001" rx="6.533333333333333" ry="2.6058823529411814" stroke-width="0.9" stroke="#555"/><ellipse cx="794.9639999999999" cy="694.7180000000001" rx="2.6" ry="1.6" stroke-width="1.0" stroke="#444"/><ellipse cx="823.232" cy="685.616" rx="2.6" ry="1.6" stroke-width="1.0" stroke="#444"/><ellipse cx="842.324" cy="701.0820000000001" rx="2.6" ry="1.6" stroke-width="1.0" stroke="#444"/><ellipse cx="812.2800000000001" cy="710.184" rx="2.6" ry="1.6" stroke-width="1.0" stroke="#444"/>
<path d="M816.8,721.5 L816.8,739.5 L820.8,739.5 L820.8,721.5" stroke-width="1" stroke="#555"/><ellipse cx="818.8" cy="719.5" rx="6.5" ry="3.6" stroke-width="1.1" fill="#fff" stroke="#666"/><ellipse cx="818.8" cy="719.5" rx="3.0" ry="1.6" stroke-width="0.8" stroke="#888"/><ellipse cx="818.8" cy="740.5" rx="3.0" ry="1.8" stroke-width="1" fill="#444" stroke="#444"/>
<path d="M874.3,668.4 Q876.7,667.7 878.8,669.1 L901.7,684.8 Q903.8,686.2 903.8,688.7 L903.8,687.2 Q903.8,689.7 901.4,690.5 L868.0,701.2 Q865.6,702.0 863.6,700.5 L841.8,683.8 Q839.8,682.3 839.8,679.8 L839.8,681.3 Q839.8,678.8 842.2,678.1Z" fill="#fff" stroke="#3a3a3a" stroke-width="1.2"/><path d="M842.2,680.6 Q839.8,678.8 842.7,677.9 L873.8,668.6 Q876.7,667.7 879.2,669.4 L901.3,684.5 Q903.8,686.2 900.9,687.1 L868.5,697.6 Q865.6,698.5 863.2,696.7Z" fill="none" stroke="#3a3a3a" stroke-width="1.1"/><ellipse cx="871.475" cy="682.8" rx="8.533333333333333" ry="3.6235294117647006" stroke-width="1.2" stroke="#3a3a3a"/><ellipse cx="871.475" cy="683.4" rx="6.533333333333333" ry="2.3235294117647003" stroke-width="0.9" stroke="#555"/><ellipse cx="848.0355" cy="679.8399999999999" rx="2.6" ry="1.6" stroke-width="1.0" stroke="#444"/><ellipse cx="875.3415" cy="671.626" rx="2.6" ry="1.6" stroke-width="1.0" stroke="#444"/><ellipse cx="895.3955" cy="685.316" rx="2.6" ry="1.6" stroke-width="1.0" stroke="#444"/><ellipse cx="867.1275" cy="694.418" rx="2.6" ry="1.6" stroke-width="1.0" stroke="#444"/>
<path d="M871.0,706.7 L871.0,724.7 L875.0,724.7 L875.0,706.7" stroke-width="1" stroke="#555"/><ellipse cx="873" cy="704.7" rx="6.5" ry="3.6" stroke-width="1.1" fill="#fff" stroke="#666"/><ellipse cx="873" cy="704.7" rx="3.0" ry="1.6" stroke-width="0.8" stroke="#888"/><ellipse cx="873" cy="725.7" rx="3.0" ry="1.8" stroke-width="1" fill="#444" stroke="#444"/>
<line x1="539.2" y1="517.8" x2="659.3" y2="538.3" stroke-width="0.8" stroke="#555"/>
<line x1="598.8" y1="513.7" x2="659.3" y2="538.3" stroke-width="0.8" stroke="#555"/>
<line x1="799.1" y1="495.4" x2="951.8" y2="516.4" stroke-width="0.8" stroke="#555"/>
<line x1="858.2" y1="486.8" x2="951.8" y2="516.4" stroke-width="0.8" stroke="#555"/>
</g>
<g font-family="Liberation Sans, sans-serif" font-weight="bold" fill="#151515" stroke="#151515" stroke-width="0.35">
<text x="359" y="106.6" font-size="16" textLength="365.5" lengthAdjust="spacingAndGlyphs">Note: Read “Plastic Gasket” Instructions</text>
<text x="460.3" y="124.6" font-size="16" textLength="162.0" lengthAdjust="spacingAndGlyphs">Prior to Assembly</text>
<text x="177.7" y="176.7" font-size="14" textLength="59.1" lengthAdjust="spacingAndGlyphs">10” Bolt</text>
<text x="176.3" y="191.8" font-size="14" textLength="61.0" lengthAdjust="spacingAndGlyphs">(2 Total)</text>
<text x="105" y="228.9" font-size="14" textLength="105.7" lengthAdjust="spacingAndGlyphs">Nylon Washer</text>
<text x="127" y="243.7" font-size="14" textLength="61.6" lengthAdjust="spacingAndGlyphs">(6 Total)</text>
<text x="77.7" y="340.9" font-size="14" textLength="87.7" lengthAdjust="spacingAndGlyphs">Left Ley “A”</text>
<text x="374.5" y="202.4" font-size="14" textLength="95.3" lengthAdjust="spacingAndGlyphs">Crossbar “A”</text>
<text x="297.3" y="285.8" font-size="14" textLength="51.1" lengthAdjust="spacingAndGlyphs">Spacer</text>
<text x="249.1" y="325.7" font-size="14" textLength="105.0" lengthAdjust="spacingAndGlyphs">Nylon Washer</text>
<text x="271.2" y="340.5" font-size="14" textLength="60.2" lengthAdjust="spacingAndGlyphs">(6 Total)</text>
<text x="446.3" y="381.5" font-size="14" textLength="50.9" lengthAdjust="spacingAndGlyphs">Spacer</text>
<text x="566.8" y="168.1" font-size="14" textLength="81.8" lengthAdjust="spacingAndGlyphs">5-1/2” Bolt</text>
<text x="576.7" y="182.9" font-size="14" textLength="61.0" lengthAdjust="spacingAndGlyphs">(6 Total)</text>
<text x="681.8" y="230.0" font-size="14" textLength="99.2" lengthAdjust="spacingAndGlyphs">Right Leg “A”</text>
<text x="557.4" y="315.0" font-size="14" textLength="92.6" lengthAdjust="spacingAndGlyphs">Crossbar “A”</text>
<text x="573" y="366.7" font-size="14" textLength="96.0" lengthAdjust="spacingAndGlyphs">Crossbar “B”</text>
<text x="828.8" y="335.9" font-size="14" textLength="100.2" lengthAdjust="spacingAndGlyphs">Right Leg “A”</text>
<text x="896.3" y="394.5" font-size="14" textLength="102.4" lengthAdjust="spacingAndGlyphs">Right Leg “B”</text>
<text x="248" y="392.0" font-size="14" textLength="88.6" lengthAdjust="spacingAndGlyphs">Left Leg “A”</text>
<text x="447.5" y="489.8" font-size="14" textLength="29.5" lengthAdjust="spacingAndGlyphs">Left</text>
<text x="450" y="505.3" font-size="14" textLength="27.0" lengthAdjust="spacingAndGlyphs">Leg</text>
<text x="453.6" y="520.1" font-size="14" textLength="23.4" lengthAdjust="spacingAndGlyphs">“A”</text>
<text x="70.6" y="546.8" font-size="14" textLength="57.0" lengthAdjust="spacingAndGlyphs">Use For</text>
<text x="46.7" y="562.1" font-size="14" textLength="105.2" lengthAdjust="spacingAndGlyphs">Triple/Double</text>
<text x="61.8" y="577.1" font-size="14" textLength="74.2" lengthAdjust="spacingAndGlyphs">Assembly</text>
<text x="913.7" y="535.6" font-size="14" textLength="91.7" lengthAdjust="spacingAndGlyphs">Right Kicker</text>
<text x="915" y="551.0" font-size="14" textLength="88.6" lengthAdjust="spacingAndGlyphs">(Single-Use</text>
<text x="915" y="565.8" font-size="14" textLength="89.6" lengthAdjust="spacingAndGlyphs">Outer Only)</text>
<text x="638" y="557.4" font-size="14" textLength="81.3" lengthAdjust="spacingAndGlyphs">Left Kicker</text>
<text x="635.1" y="572.6" font-size="14" textLength="88.0" lengthAdjust="spacingAndGlyphs">(Single-Use</text>
<text x="634.8" y="587.7" font-size="14" textLength="88.9" lengthAdjust="spacingAndGlyphs">Outer Only)</text>
<text x="708.6" y="625.6" font-size="14" textLength="71.3" lengthAdjust="spacingAndGlyphs">Flat Head</text>
<text x="699.5" y="640.7" font-size="14" textLength="93.6" lengthAdjust="spacingAndGlyphs">Socket Bolts</text>
<text x="222.9" y="736.5" font-size="14" textLength="118.0" lengthAdjust="spacingAndGlyphs">Double/Double</text>
<text x="244.5" y="751.7" font-size="14" textLength="74.2" lengthAdjust="spacingAndGlyphs">Assembly</text>
<text x="641.9" y="743.3" font-size="14" textLength="86.3" lengthAdjust="spacingAndGlyphs">Base Plates</text>
</g>
</svg>
</body></html>
